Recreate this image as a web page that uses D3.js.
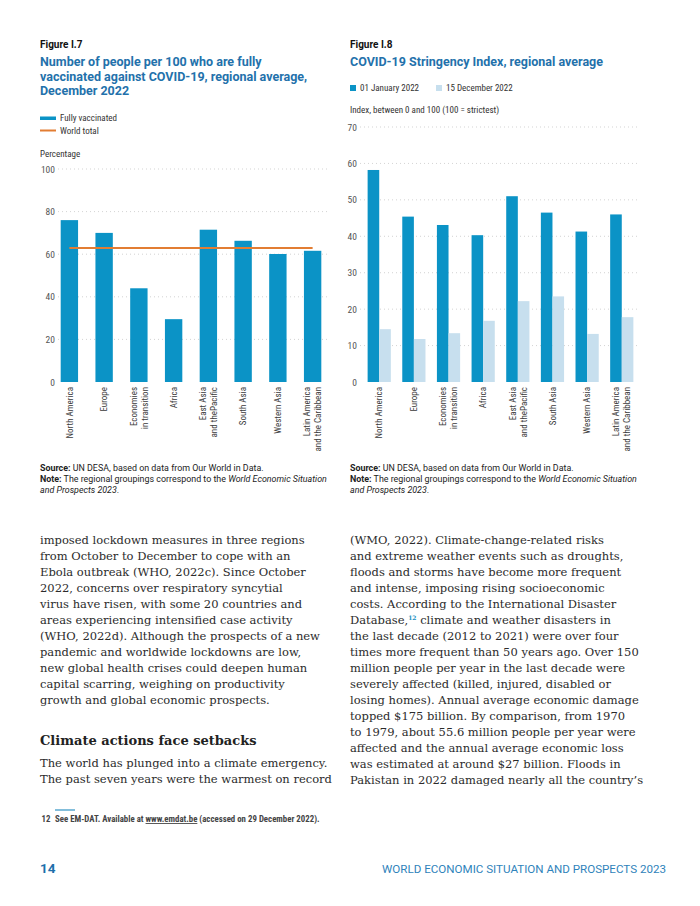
<!DOCTYPE html>
<html lang="en">
<head>
<meta charset="utf-8">
<title>WESP 2023 - Figures I.7 and I.8</title>
<script src="https://cdn.jsdelivr.net/npm/d3@7"></script>
<style>
  body { margin: 0; background: #fff; }
  svg { display: block; }
  .sans { font-family: "Roboto Condensed", "Liberation Sans Narrow", "Roboto", sans-serif; }
  .title { font-family: "Roboto", "Noto Sans", sans-serif; }
  .serif { font-family: "DejaVu Serif", "Liberation Serif", serif; }
</style>
</head>
<body>
<div id="page"></div>
<script>
// ---- data ----
const regions = ["North America", "Europe", "Economies in transition", "Africa",
  "East Asia and thePacific", "South Asia", "Western Asia", "Latin America and the Caribbean"];
const regionLabels = [["North America"], ["Europe"], ["Economies", "in transition"], ["Africa"],
  ["East Asia", "and thePacific"], ["South Asia"], ["Western Asia"], ["Latin America", "and the Caribbean"]];

// Figure I.7
const fullyVaccinated = [76, 70, 44, 29.5, 71.5, 66.3, 60.1, 61.6];
const worldTotal = 62.9;
const vaxTicks = [0, 20, 40, 60, 80, 100];

// Figure I.8
const stringencyJan = [58.2, 45.4, 43.1, 40.3, 51.0, 46.5, 41.3, 46.0];
const stringencyDec = [14.5, 11.8, 13.4, 16.8, 22.2, 23.5, 13.2, 17.8];
const stringencySeries = ["01 January 2022", "15 December 2022"];
const strTicks = [0, 10, 20, 30, 40, 50, 60, 70];

// body copy
const leftCol = [
  "imposed lockdown measures in three regions",
  "from October to December to cope with an",
  "Ebola outbreak (WHO, 2022c). Since October",
  "2022, concerns over respiratory syncytial",
  "virus have risen, with some 20 countries and",
  "areas experiencing intensified case activity",
  "(WHO, 2022d). Although the prospects of a new",
  "pandemic and worldwide lockdowns are low,",
  "new global health crises could deepen human",
  "capital scarring, weighing on productivity",
  "growth and global economic prospects."
];
const leftCol2 = [
  "The world has plunged into a climate emergency.",
  "The past seven years were the warmest on record"
];
const rightCol = [
  "(WMO, 2022). Climate-change-related risks",
  "and extreme weather events such as droughts,",
  "floods and storms have become more frequent",
  "and intense, imposing rising socioeconomic",
  "costs. According to the International Disaster",
  "Database,|12| climate and weather disasters in",
  "the last decade (2012 to 2021) were over four",
  "times more frequent than 50 years ago. Over 150",
  "million people per year in the last decade were",
  "severely affected (killed, injured, disabled or",
  "losing homes). Annual average economic damage",
  "topped $175 billion. By comparison, from 1970",
  "to 1979, about 55.6 million people per year were",
  "affected and the annual average economic loss",
  "was estimated at around $27 billion. Floods in",
  "Pakistan in 2022 damaged nearly all the country\u2019s"
];

const DARK = "#0b93c6", LIGHT = "#c7dfee", ORANGE = "#e27d33", TITLE = "#2371ab";
const GRID = "#c8c8c8", TICK = "#555";

const svg = d3.select("#page").append("svg")
  .attr("width", 700).attr("height", 906)
  .attr("viewBox", "0 0 700 906");
svg.append("rect").attr("width", 700).attr("height", 906).attr("fill", "#fff");

// ---- headers ----
function header(x, fig, lines) {
  svg.append("text").attr("class", "title").attr("x", x).attr("y", 48)
    .attr("font-size", 10).attr("font-weight", 700).attr("fill", "#111").text(fig);
  lines.forEach((l, i) => {
    svg.append("text").attr("class", "title").attr("x", x).attr("y", 66 + i * 14.7)
      .attr("font-size", 12.5).attr("font-weight", 700).attr("fill", TITLE).text(l);
  });
}
header(40, "Figure I.7", ["Number of people per 100 who are fully",
  "vaccinated against COVID-19, regional average,", "December 2022"]);
header(350, "Figure I.8", ["COVID-19 Stringency Index, regional average"]);

// ---- shared helpers ----
function grid(y, ticks, x0, x1) {
  svg.append("g").selectAll("line").data(ticks.filter(t => t > 0)).join("line")
    .attr("x1", x0).attr("x2", x1)
    .attr("y1", d => y(d)).attr("y2", d => y(d))
    .attr("stroke", GRID).attr("stroke-width", 0.8).attr("stroke-dasharray", "1,3");
}
function yLabels(y, ticks, xEnd) {
  const g = svg.append("g").attr("class", "sans")
    .attr("transform", "translate(" + xEnd + ",0)")
    .call(d3.axisLeft(y).tickValues(ticks).tickSize(0).tickPadding(0));
  g.select(".domain").remove();
  g.selectAll("text").attr("font-family", null).attr("font-size", 9.5).attr("fill", TICK);
}
function xLabels(centerOf, topY) {
  const g = svg.append("g").attr("class", "sans");
  regions.forEach((r, i) => {
    const lines = regionLabels[i];
    const t = g.append("text")
      .attr("transform", "translate(" + centerOf(r) + "," + topY + ") rotate(-90)")
      .attr("text-anchor", "end").attr("font-size", 9).attr("fill", "#3a3a3a");
    lines.forEach((l, j) => {
      t.append("tspan").attr("x", 0)
        .attr("y", (j - (lines.length - 1) / 2) * 11 + 3.2).text(l);
    });
  });
}
function notes(x) {
  const s = svg.append("text").attr("class", "title").attr("x", x).attr("y", 471)
    .attr("font-size", 8.9).attr("fill", "#222");
  s.append("tspan").attr("font-weight", 700).text("Source:");
  s.append("tspan").text(" UN DESA, based on data from Our World in Data.");
  const n = svg.append("text").attr("class", "title").attr("x", x).attr("y", 482)
    .attr("font-size", 8.9).attr("fill", "#222");
  n.append("tspan").attr("font-weight", 700).text("Note:");
  n.append("tspan").text(" The regional groupings correspond to the ");
  n.append("tspan").attr("font-style", "italic").text("World Economic Situation");
  const n2 = svg.append("text").attr("class", "title").attr("x", x).attr("y", 493)
    .attr("font-size", 8.9).attr("fill", "#222");
  n2.append("tspan").attr("font-style", "italic").text("and Prospects 2023");
  n2.append("tspan").text(".");
}

// ---- Figure I.7 ----
{
  const lg = svg.append("g").attr("class", "sans");
  lg.append("rect").attr("x", 40).attr("y", 116.5).attr("width", 16).attr("height", 3.5).attr("fill", DARK);
  lg.append("text").attr("x", 60).attr("y", 121).attr("font-size", 9).attr("fill", "#333").text("Fully vaccinated");
  lg.append("line").attr("x1", 40).attr("x2", 56).attr("y1", 130.5).attr("y2", 130.5)
    .attr("stroke", ORANGE).attr("stroke-width", 2);
  lg.append("text").attr("x", 60).attr("y", 134).attr("font-size", 9).attr("fill", "#333").text("World total");
  lg.append("text").attr("x", 40).attr("y", 157).attr("font-size", 9).attr("fill", "#333").text("Percentage");

  const x = d3.scaleBand().domain(regions).range([52, 330]).paddingInner(0.5).paddingOuter(0.25);
  const y = d3.scaleLinear().domain([0, 100]).range([382, 169]);

  grid(y, vaxTicks, 58, 330);
  yLabels(y, vaxTicks, 55);

  svg.append("g").selectAll("rect").data(regions).join("rect")
    .attr("x", d => x(d)).attr("width", x.bandwidth())
    .attr("y", (d, i) => y(fullyVaccinated[i]))
    .attr("height", (d, i) => y(0) - y(fullyVaccinated[i]))
    .attr("fill", DARK);

  svg.append("line")
    .attr("x1", x(regions[0]) + x.bandwidth() / 2)
    .attr("x2", x(regions[regions.length - 1]) + x.bandwidth() / 2)
    .attr("y1", y(worldTotal)).attr("y2", y(worldTotal))
    .attr("stroke", ORANGE).attr("stroke-width", 2);

  xLabels(r => x(r) + x.bandwidth() / 2, 387);
  notes(40);
}

// ---- Figure I.8 ----
{
  const lg = svg.append("g").attr("class", "sans");
  const colors = [DARK, LIGHT];
  const lx = [350, 436];
  stringencySeries.forEach((s, i) => {
    lg.append("rect").attr("x", lx[i]).attr("y", 85).attr("width", 6).attr("height", 6).attr("fill", colors[i]);
    lg.append("text").attr("x", lx[i] + 10).attr("y", 91).attr("font-size", 9).attr("fill", "#333").text(s);
  });
  lg.append("text").attr("x", 350).attr("y", 113).attr("font-size", 9).attr("fill", "#333")
    .text("Index, between 0 and 100 (100 = strictest)");

  const x0 = d3.scaleBand().domain(regions).range([360, 641]).paddingInner(0.33).paddingOuter(0.22);
  const x1 = d3.scaleBand().domain(stringencySeries).range([0, x0.bandwidth()]);
  const y = d3.scaleLinear().domain([0, 70]).range([382, 127]);

  grid(y, strTicks, 360, 640);
  yLabels(y, strTicks, 357);

  const vals = [stringencyJan, stringencyDec];
  const groups = svg.append("g").selectAll("g").data(regions).join("g")
    .attr("transform", d => "translate(" + x0(d) + ",0)");
  groups.selectAll("rect")
    .data((d, i) => stringencySeries.map((s, k) => ({ s: s, v: vals[k][i], c: colors[k] })))
    .join("rect")
    .attr("x", d => x1(d.s)).attr("width", x1.bandwidth())
    .attr("y", d => y(d.v)).attr("height", d => y(0) - y(d.v))
    .attr("fill", d => d.c);

  xLabels(r => x0(r) + x0.bandwidth() / 2, 387);
  notes(350);
}

// ---- body copy ----
function column(x, y0, lines) {
  lines.forEach((l, i) => {
    const t = svg.append("text").attr("class", "serif").attr("x", x).attr("y", y0 + i * 16)
      .attr("font-size", 11.5).attr("fill", "#2b2b2b");
    const parts = l.split("|");
    t.append("tspan").text(parts[0]);
    if (parts.length > 1) {
      t.append("tspan").attr("font-size", 6).attr("font-weight", 700).attr("fill", "#1b8fc0")
        .attr("dy", -4.5).text(parts[1]);
      t.append("tspan").attr("dy", 4.5).text(parts[2]);
    }
  });
}
column(40, 544, leftCol);
svg.append("text").attr("class", "serif").attr("x", 40).attr("y", 745)
  .attr("font-size", 13).attr("font-weight", 700).attr("fill", "#222")
  .text("Climate actions face setbacks");
column(40, 767, leftCol2);
column(350, 544, rightCol);

// ---- footnote and footer ----
svg.append("line").attr("x1", 55).attr("x2", 75).attr("y1", 810).attr("y2", 810)
  .attr("stroke", "#5aa9cf").attr("stroke-width", 1.5);
const fn = svg.append("text").attr("class", "sans").attr("y", 822)
  .attr("font-size", 8.8).attr("font-weight", 700).attr("fill", "#444");
fn.append("tspan").attr("x", 41.5).text("12");
fn.append("tspan").attr("x", 55).text("See EM-DAT. Available at ");
fn.append("tspan").attr("text-decoration", "underline").text("www.emdat.be");
fn.append("tspan").text(" (accessed on 29 December 2022).");

svg.append("text").attr("class", "title").attr("x", 40).attr("y", 873)
  .attr("font-size", 13.5).attr("font-weight", 700).attr("fill", "#1d6fab").text("14");
svg.append("text").attr("class", "title").attr("x", 666).attr("y", 873)
  .attr("text-anchor", "end").attr("font-size", 11.6).attr("fill", "#2f83bb")
  .text("WORLD ECONOMIC SITUATION AND PROSPECTS 2023");
</script>
</body>
</html>
